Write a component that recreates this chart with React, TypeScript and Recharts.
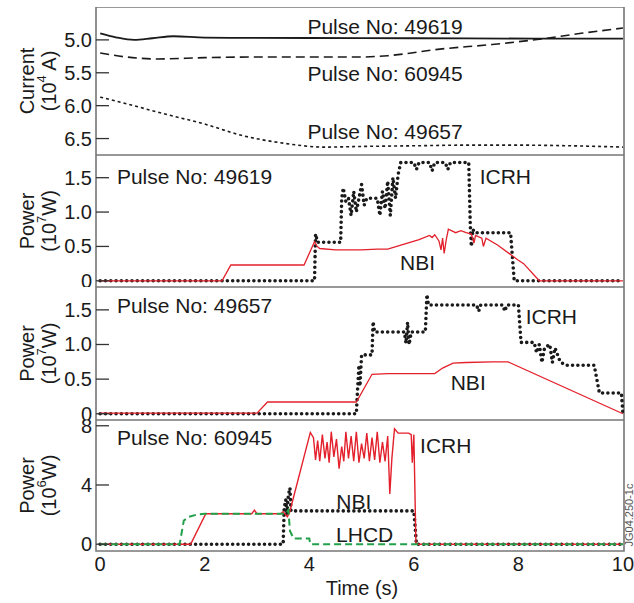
import React from "react";
import { LineChart, Line, XAxis, YAxis, ReferenceDot, ReferenceArea } from "recharts";

type Pt = [number, number];

const FONT = "'Liberation Sans', Arial, Helvetica, sans-serif";
const RED = "#e3202b";
const GREEN = "#22a04a";
const INK = "#1a1a1a";

const TIME_TICKS = [0, 2, 4, 6, 8, 10];
const X_DOMAIN: [number, number] = [-0.08, 10.02];

// panel 1: plasma current (axis runs downwards)
const CURRENT_TICKS = [5.0, 5.5, 6.0, 6.5];
const cur49619: Pt[] = [
  [0, 4.9], [0.3, 4.96], [0.65, 5.0], [1.0, 4.975], [1.4, 4.945], [2, 4.965], [3, 4.97],
  [5, 4.972], [7, 4.978], [8.4, 4.98], [10, 4.98],
];
const cur60945: Pt[] = [
  [0, 5.2], [0.5, 5.26], [1.1, 5.29], [2, 5.27], [3, 5.26], [4, 5.26], [5, 5.26], [5.5, 5.24],
  [6.5, 5.14], [7.5, 5.07], [8.4, 4.99], [9.2, 4.9], [10, 4.82],
];
const cur49657: Pt[] = [
  [0, 5.87], [0.5, 5.97], [1.2, 6.12], [2, 6.28], [2.7, 6.45], [3.5, 6.57], [4.3, 6.63],
  [5, 6.62], [6, 6.61], [7, 6.6], [8, 6.6], [9, 6.61], [10, 6.63],
];

// panel 2: pulse 49619 (10^7 W)
const POWER_TICKS = [0, 0.5, 1.0, 1.5];
const nbi49619: Pt[] = [
  [0, 0], [2.33, 0], [2.5, 0.23], [3.9, 0.23], [4.1, 0.57], [4.15, 0.5], [4.2, 0.47], [4.5, 0.45],
  [5.0, 0.45], [5.3, 0.46], [5.5, 0.46], [5.8, 0.53], [6.1, 0.6], [6.3, 0.66], [6.35, 0.63],
  [6.4, 0.67], [6.48, 0.58], [6.52, 0.45], [6.55, 0.62], [6.58, 0.4], [6.62, 0.6], [6.66, 0.75],
  [6.8, 0.7], [6.9, 0.73], [7.0, 0.7], [7.1, 0.68], [7.15, 0.55], [7.18, 0.66], [7.3, 0.62],
  [7.33, 0.5], [7.38, 0.62], [7.6, 0.52], [8.0, 0.3], [8.1, 0.25], [8.4, 0], [10, 0],
];
const icrh49619: Pt[] = [
  [0, 0], [4.1, 0], [4.12, 0.68], [4.16, 0.56], [4.6, 0.56], [4.62, 1.2], [4.65, 1.35],
  [4.7, 1.15], [4.75, 1.2], [4.8, 0.95], [4.85, 1.3], [4.9, 1.0], [4.95, 1.2], [5.0, 1.4],
  [5.05, 1.1], [5.1, 1.2], [5.2, 1.2], [5.3, 1.2], [5.35, 0.95], [5.4, 1.3], [5.45, 1.05],
  [5.5, 1.45], [5.55, 0.95], [5.6, 1.5], [5.65, 1.2], [5.7, 1.55], [5.75, 1.72], [6.0, 1.72],
  [6.05, 1.62], [6.1, 1.72], [6.3, 1.72], [6.35, 1.6], [6.4, 1.72], [6.6, 1.72], [6.65, 1.62],
  [6.7, 1.72], [7.05, 1.72], [7.08, 0.8], [7.1, 0.5], [7.13, 0.75], [7.16, 0.7], [7.85, 0.7],
  [7.92, 0], [10, 0],
];

// panel 3: pulse 49657 (10^7 W)
const nbi49657: Pt[] = [
  [0, 0.01], [3.0, 0.01], [3.2, 0.17], [4.9, 0.17], [5.2, 0.57], [5.5, 0.58], [6.0, 0.58],
  [6.4, 0.58], [6.55, 0.66], [6.75, 0.73], [7.0, 0.74], [7.5, 0.75], [7.8, 0.75], [10, 0.0],
];
const icrh49657: Pt[] = [
  [0, 0], [4.9, 0], [4.92, 0.3], [4.95, 0.7], [4.97, 0.4], [5.0, 0.85], [5.2, 0.85],
  [5.22, 1.33], [5.25, 1.18], [5.82, 1.18], [5.85, 1.02], [5.88, 1.32], [5.91, 1.0],
  [5.95, 1.18], [6.22, 1.18], [6.25, 1.72], [6.28, 1.57], [7.2, 1.57], [7.24, 1.48],
  [7.28, 1.57], [7.7, 1.57], [7.74, 1.48], [7.78, 1.57], [8.0, 1.57], [8.05, 1.03],
  [8.3, 1.03], [8.35, 0.88], [8.4, 1.0], [8.45, 0.74], [8.5, 0.95], [8.6, 1.0], [8.65, 0.74],
  [8.7, 0.95], [8.8, 0.75], [8.9, 0.7], [9.45, 0.7], [9.55, 0.3], [9.97, 0.3], [10, 0],
];

// panel 4: pulse 60945 (10^6 W)
const POWER6_TICKS = [0, 4, 8];
const icrh60945: Pt[] = [
  [0, 0], [1.73, 0], [2.02, 2.06], [2.9, 2.06], [2.95, 2.3], [3.0, 2.06], [3.45, 2.06],
  [3.5, 2.2], [3.58, 1.85], [3.62, 2.1], [4.02, 7.55], [4.08, 7.2], [4.12, 5.7], [4.16, 7.0],
  [4.2, 5.6], [4.25, 7.4], [4.3, 5.8], [4.34, 6.9], [4.38, 5.5], [4.42, 7.6], [4.47, 5.9],
  [4.52, 7.1], [4.57, 5.1], [4.62, 6.6], [4.66, 5.6], [4.7, 7.6], [4.75, 5.8], [4.8, 7.3],
  [4.85, 5.6], [4.9, 7.6], [4.95, 5.5], [5.0, 6.8], [5.05, 5.8], [5.1, 7.5], [5.15, 5.6],
  [5.2, 7.2], [5.25, 5.7], [5.3, 7.6], [5.35, 5.5], [5.4, 6.9], [5.45, 5.6], [5.5, 7.3],
  [5.54, 3.4], [5.58, 5.8], [5.63, 7.8], [5.7, 7.5], [5.9, 7.5], [5.95, 7.4], [5.97, 5.5],
  [6.0, 7.4], [6.04, 0], [10, 0],
];
const nbi60945: Pt[] = [
  [0, 0], [3.5, 0], [3.52, 2.4], [3.55, 3.0], [3.57, 2.0], [3.6, 3.3], [3.63, 3.8],
  [3.65, 2.25], [6.0, 2.25], [6.05, 0], [10, 0],
];
const lhcd60945: Pt[] = [
  [0, 0], [1.52, 0], [1.6, 1.6], [1.7, 1.85], [1.85, 2.0], [2.0, 2.05], [3.55, 2.05],
  [3.6, 2.3], [3.63, 0.9], [3.7, 0.38], [4.0, 0.38], [4.02, 0], [10, 0],
];

const rows = (pts: Pt[]) => pts.map(([t, v]) => ({ t, v }));

const fmt1 = (v: number) => (v === 0 ? "0" : v.toFixed(1));
const fmt0 = (v: number) => String(v);

const makeYTick = (fmt: (v: number) => string) => (props: any) => {
  const { x, y, payload } = props;
  return (
    <g>
      <line x1={x} x2={x + 13} y1={y} y2={y} stroke="#333" strokeWidth={1.3} />
      <text x={x - 4} y={y} dy={7} textAnchor="end" fontSize={20} fill={INK} fontFamily={FONT}>
        {fmt(payload.value)}
      </text>
    </g>
  );
};

const XTick = (props: any) => {
  const { x, y, payload } = props;
  return (
    <text x={x} y={y + 20} textAnchor="middle" fontSize={20} fill={INK} fontFamily={FONT}>
      {payload.value}
    </text>
  );
};

const axisTitle = (first: string, pre: string, sup: string, post: string) => (props: any) => {
  const { viewBox } = props;
  const cy = viewBox.y + viewBox.height / 2;
  return (
    <g fontFamily={FONT} fontSize={20} fill={INK}>
      <text x={27} y={cy} transform={`rotate(-90, 27, ${cy})`} textAnchor="middle" dominantBaseline="central">
        {first}
      </text>
      <text x={49} y={cy} transform={`rotate(-90, 49, ${cy})`} textAnchor="middle" dominantBaseline="central">
        <tspan>{pre}</tspan>
        <tspan dy={-8} fontSize={13}>{sup}</tspan>
        <tspan dy={8}>{post}</tspan>
      </text>
    </g>
  );
};

const note = (x: number, y: number, text: string, left = false) => (
  <ReferenceDot
    key={text + x}
    x={x}
    y={y}
    r={0}
    fill="none"
    stroke="none"
    ifOverflow="visible"
    label={{ value: text, position: left ? "right" : "center", offset: 0, fontSize: 21, fill: INK, fontFamily: FONT }}
  />
);

const dotted = (pts: Pt[], key: string) => (
  <Line
    key={key}
    data={rows(pts)}
    dataKey="v"
    type="linear"
    stroke={INK}
    strokeWidth={3.6}
    strokeDasharray="0 5.3"
    strokeLinecap="round"
    dot={false}
    isAnimationActive={false}
  />
);

const redLine = (pts: Pt[], key: string, w = 1.3) => (
  <Line key={key} data={rows(pts)} dataKey="v" type="linear" stroke={RED} strokeWidth={w} dot={false} isAnimationActive={false} />
);

interface PanelProps {
  top: number;
  height: number;
  yDomain: [number, number];
  yTicks: number[];
  fmt: (v: number) => string;
  reversed?: boolean;
  title: (props: any) => React.ReactElement;
  showX?: boolean;
  children: React.ReactNode;
}

const Panel = ({ top, height, yDomain, yTicks, fmt, reversed, title, showX, children }: PanelProps) => {
  const xh = showX ? 52 : 0;
  return (
    <div style={{ position: "absolute", left: 0, top }}>
      <LineChart
        width={634}
        height={height + xh}
        margin={{ top: 0, right: 10, bottom: 0, left: 0 }}
        style={{ overflow: "visible" }}
      >
        <XAxis
          type="number"
          dataKey="t"
          domain={X_DOMAIN}
          allowDataOverflow
          ticks={TIME_TICKS}
          interval={0}
          hide={!showX}
          height={xh}
          axisLine={false}
          tickLine={false}
          tickSize={0}
          tickMargin={0}
          tick={<XTick />}
          label={
            showX
              ? {
                  content: (p: any) => (
                    <text x={362} y={p.viewBox.y + 44} textAnchor="middle" fontSize={20} fill={INK} fontFamily={FONT}>
                      Time (s)
                    </text>
                  ),
                }
              : undefined
          }
        />
        <YAxis
          type="number"
          domain={yDomain}
          allowDataOverflow
          reversed={reversed}
          ticks={yTicks}
          interval={0}
          width={96}
          axisLine={false}
          tickLine={false}
          tickSize={0}
          tickMargin={0}
          tick={makeYTick(fmt)}
          label={{ content: title }}
        />
        {children}
        <ReferenceArea
          x1={X_DOMAIN[0]}
          x2={X_DOMAIN[1]}
          y1={yDomain[0]}
          y2={yDomain[1]}
          fill="none"
          stroke="#777"
          strokeWidth={1.6}
          ifOverflow="visible"
        />
      </LineChart>
    </div>
  );
};

export default function App() {
  return (
    <div style={{ position: "absolute", left: 0, top: 0, width: 634, height: 603, background: "#fff", fontFamily: FONT }}>
      <Panel top={7} height={148} yDomain={[4.5, 6.75]} yTicks={CURRENT_TICKS} fmt={fmt1} reversed title={axisTitle("Current", "(10", "4", " A)")}>
        <Line data={rows(cur49619)} dataKey="v" type="monotone" stroke={INK} strokeWidth={1.8} dot={false} isAnimationActive={false} />
        <Line data={rows(cur60945)} dataKey="v" type="monotone" stroke={INK} strokeWidth={1.6} strokeDasharray="9 5" dot={false} isAnimationActive={false} />
        <Line data={rows(cur49657)} dataKey="v" type="monotone" stroke={INK} strokeWidth={1.6} strokeDasharray="3 3" dot={false} isAnimationActive={false} />
        {note(5.45, 4.79, "Pulse No: 49619")}
        {note(5.45, 5.51, "Pulse No: 60945")}
        {note(5.45, 6.39, "Pulse No: 49657")}
      </Panel>
      <Panel top={155} height={132} yDomain={[-0.09, 1.83]} yTicks={POWER_TICKS} fmt={fmt1} title={axisTitle("Power", "(10", "7", "W)")}>
        {dotted(icrh49619, "icrh")}
        {redLine(nbi49619, "nbi")}
        {note(0.32, 1.51, "Pulse No: 49619", true)}
        {note(7.75, 1.51, "ICRH")}
        {note(6.07, 0.27, "NBI")}
      </Panel>
      <Panel top={287} height={133} yDomain={[-0.09, 1.83]} yTicks={POWER_TICKS} fmt={fmt1} title={axisTitle("Power", "(10", "7", "W)")}>
        {dotted(icrh49657, "icrh")}
        {redLine(nbi49657, "nbi")}
        {note(0.32, 1.56, "Pulse No: 49657", true)}
        {note(8.63, 1.41, "ICRH")}
        {note(7.04, 0.45, "NBI")}
      </Panel>
      <Panel top={420} height={131} yDomain={[-0.46, 8.39]} yTicks={POWER6_TICKS} fmt={fmt0} showX title={axisTitle("Power", "(10", "6", "W)")}>
        {dotted(nbi60945, "nbi")}
        {redLine(icrh60945, "icrh", 1.4)}
        <Line data={rows(lhcd60945)} dataKey="v" type="linear" stroke={GREEN} strokeWidth={2} strokeDasharray="7 4" dot={false} isAnimationActive={false} />
        {note(0.32, 7.2, "Pulse No: 60945", true)}
        {note(6.61, 6.67, "ICRH")}
        {note(4.85, 2.9, "NBI")}
        {note(5.06, 0.62, "LHCD")}
      </Panel>
      <div
        style={{
          position: "absolute",
          left: 593,
          top: 509,
          width: 72,
          fontSize: 11,
          color: "#555",
          transform: "rotate(-90deg)",
          textAlign: "center",
          whiteSpace: "nowrap",
        }}
      >
        JG04.250-1c
      </div>
    </div>
  );
}
